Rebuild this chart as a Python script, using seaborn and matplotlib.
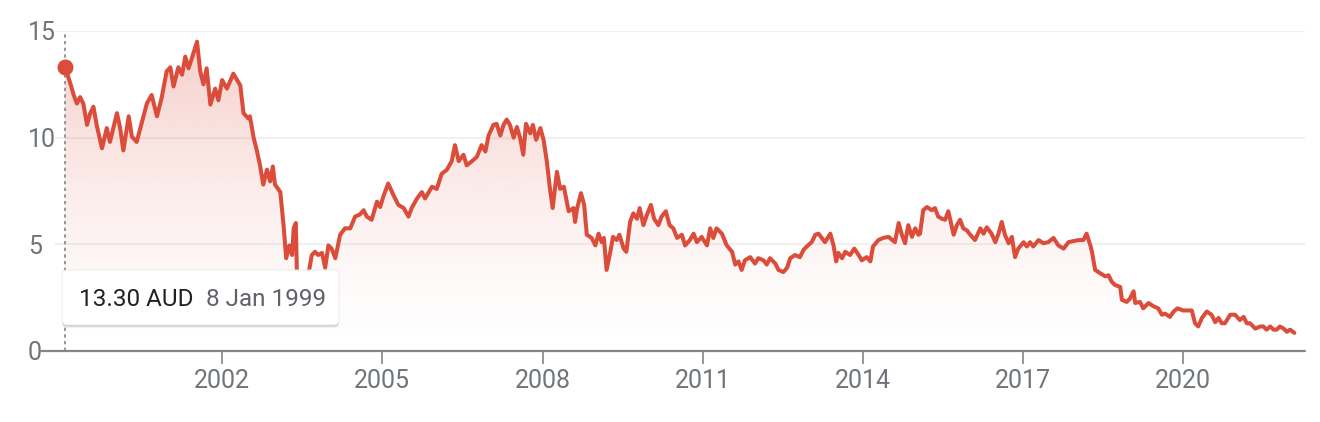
import numpy as np
import matplotlib
matplotlib.use("Agg")
import matplotlib.pyplot as plt
from matplotlib.colors import to_rgb
from matplotlib.lines import Line2D
from matplotlib.patches import FancyBboxPatch
from matplotlib.transforms import IdentityTransform
import seaborn as sns

# weekly-ish closes (decimal year, AUD)
years = [
    1999.06, 1999.15, 1999.22, 1999.28, 1999.34, 1999.40, 1999.47, 1999.53, 1999.59, 1999.65,
    1999.75, 1999.84, 1999.90, 2000.03, 2000.09, 2000.15, 2000.25, 2000.31, 2000.40, 2000.50,
    2000.59, 2000.68, 2000.78, 2000.87, 2000.96, 2001.03, 2001.09, 2001.18, 2001.25, 2001.31,
    2001.37, 2001.43, 2001.53, 2001.59, 2001.65, 2001.71, 2001.78, 2001.87, 2001.93, 2002.00,
    2002.09, 2002.21, 2002.34, 2002.40, 2002.49, 2002.52, 2002.59, 2002.65, 2002.71, 2002.77,
    2002.84, 2002.90, 2002.95, 2002.99, 2003.09, 2003.15, 2003.20, 2003.26, 2003.31, 2003.34,
    2003.38, 2003.40, 2003.46, 2003.55, 2003.63, 2003.68, 2003.74, 2003.80, 2003.87, 2003.93,
    2003.99, 2004.05, 2004.12, 2004.21, 2004.30, 2004.40, 2004.49, 2004.58, 2004.65, 2004.71,
    2004.80, 2004.90, 2004.96, 2005.02, 2005.11, 2005.21, 2005.30, 2005.40, 2005.49, 2005.55,
    2005.65, 2005.74, 2005.80, 2005.93, 2006.02, 2006.11, 2006.21, 2006.30, 2006.36, 2006.43,
    2006.49, 2006.52, 2006.58, 2006.68, 2006.77, 2006.86, 2006.93, 2006.99, 2007.08, 2007.14,
    2007.21, 2007.27, 2007.33, 2007.39, 2007.46, 2007.52, 2007.58, 2007.64, 2007.69, 2007.77,
    2007.82, 2007.88, 2007.96, 2008.02, 2008.08, 2008.14, 2008.19, 2008.27, 2008.33, 2008.40,
    2008.49, 2008.58, 2008.61, 2008.65, 2008.72, 2008.78, 2008.83, 2008.92, 2008.99, 2009.05,
    2009.11, 2009.15, 2009.20, 2009.27, 2009.32, 2009.39, 2009.44, 2009.52, 2009.57, 2009.64,
    2009.70, 2009.77, 2009.82, 2009.89, 2009.95, 2010.03, 2010.09, 2010.17, 2010.23, 2010.31,
    2010.38, 2010.45, 2010.52, 2010.61, 2010.67, 2010.76, 2010.83, 2010.89, 2010.98, 2011.08,
    2011.14, 2011.20, 2011.26, 2011.36, 2011.45, 2011.55, 2011.61, 2011.67, 2011.73, 2011.79,
    2011.89, 2011.98, 2012.04, 2012.14, 2012.20, 2012.26, 2012.36, 2012.42, 2012.51, 2012.58,
    2012.64, 2012.73, 2012.82, 2012.89, 2012.95, 2013.04, 2013.11, 2013.17, 2013.23, 2013.29,
    2013.39, 2013.45, 2013.50, 2013.54, 2013.61, 2013.67, 2013.76, 2013.84, 2013.92, 2013.98,
    2014.07, 2014.14, 2014.19, 2014.29, 2014.38, 2014.48, 2014.60, 2014.67, 2014.73, 2014.79,
    2014.85, 2014.92, 2014.98, 2015.04, 2015.07, 2015.13, 2015.20, 2015.29, 2015.35, 2015.41,
    2015.48, 2015.54, 2015.60, 2015.70, 2015.76, 2015.82, 2015.88, 2015.95, 2016.01, 2016.10,
    2016.20, 2016.26, 2016.32, 2016.41, 2016.48, 2016.54, 2016.60, 2016.66, 2016.73, 2016.79,
    2016.85, 2016.91, 2017.01, 2017.07, 2017.13, 2017.19, 2017.29, 2017.38, 2017.47, 2017.57,
    2017.66, 2017.76, 2017.85, 2017.94, 2018.04, 2018.13, 2018.19, 2018.26, 2018.29, 2018.35,
    2018.44, 2018.54, 2018.60, 2018.66, 2018.72, 2018.82, 2018.85, 2018.94, 2019.00, 2019.07,
    2019.10, 2019.19, 2019.25, 2019.35, 2019.44, 2019.53, 2019.60, 2019.66, 2019.75, 2019.82,
    2019.89, 2020.00, 2020.10, 2020.16, 2020.22, 2020.28, 2020.35, 2020.44, 2020.53, 2020.60,
    2020.66, 2020.72, 2020.78, 2020.88, 2020.97, 2021.06, 2021.13, 2021.19, 2021.25, 2021.35,
    2021.44, 2021.50, 2021.56, 2021.63, 2021.69, 2021.75, 2021.81, 2021.88, 2021.94, 2022.00,
    2022.08,
]
prices = [
    13.30, 12.60, 12.00, 11.60, 11.90, 11.60, 10.60, 11.15, 11.45, 10.60,
    9.50, 10.45, 9.80, 11.15, 10.45, 9.40, 11.00, 10.05, 9.80, 10.75,
    11.60, 12.00, 11.00, 11.90, 13.10, 13.30, 12.40, 13.30, 12.95, 13.80,
    13.25, 13.70, 14.50, 13.10, 12.50, 13.25, 11.55, 12.30, 11.75, 12.70,
    12.30, 13.00, 12.45, 11.15, 10.90, 11.00, 10.00, 9.40, 8.70, 7.80,
    8.50, 7.95, 8.65, 7.80, 7.45, 5.90, 4.35, 4.95, 4.50, 5.75,
    6.00, 3.70, 3.20, 3.50, 3.80, 4.50, 4.65, 4.50, 4.60, 3.90,
    4.95, 4.80, 4.35, 5.45, 5.75, 5.75, 6.30, 6.40, 6.60, 6.30,
    6.15, 7.00, 6.75, 7.25, 7.85, 7.30, 6.85, 6.70, 6.30, 6.70,
    7.15, 7.45, 7.15, 7.70, 7.60, 8.30, 8.50, 8.90, 9.65, 8.90,
    9.10, 9.20, 8.70, 8.90, 9.10, 9.65, 9.35, 10.10, 10.60, 10.65,
    10.10, 10.60, 10.85, 10.60, 10.00, 10.50, 10.00, 9.20, 10.65, 10.20,
    10.60, 9.90, 10.45, 9.90, 8.90, 7.60, 6.70, 8.40, 7.60, 7.70,
    6.55, 6.70, 6.05, 6.70, 7.40, 6.85, 5.45, 5.30, 4.95, 5.50,
    5.10, 5.30, 3.80, 4.65, 5.35, 5.20, 5.45, 4.80, 4.65, 6.05,
    6.45, 6.20, 6.70, 5.90, 6.35, 6.85, 6.20, 5.90, 6.30, 6.55,
    5.90, 5.75, 5.30, 5.45, 4.95, 5.20, 5.50, 5.10, 5.35, 4.95,
    5.75, 5.30, 5.75, 5.50, 4.95, 4.65, 4.05, 4.20, 3.80, 4.25,
    4.40, 4.10, 4.35, 4.25, 4.05, 4.35, 4.10, 3.80, 3.70, 3.90,
    4.35, 4.50, 4.40, 4.75, 4.90, 5.10, 5.45, 5.50, 5.30, 5.10,
    5.50, 4.95, 4.20, 4.60, 4.35, 4.65, 4.50, 4.80, 4.50, 4.25,
    4.40, 4.20, 4.90, 5.20, 5.30, 5.35, 5.10, 6.00, 5.45, 5.05,
    5.90, 5.35, 5.75, 5.45, 5.50, 6.60, 6.75, 6.60, 6.70, 6.30,
    6.20, 6.15, 6.55, 5.45, 5.90, 6.15, 5.75, 5.65, 5.45, 5.20,
    5.75, 5.50, 5.80, 5.50, 5.10, 5.50, 6.05, 5.45, 5.05, 5.35,
    4.40, 4.80, 5.10, 4.90, 5.10, 4.90, 5.20, 5.05, 5.10, 5.30,
    4.95, 4.80, 5.10, 5.15, 5.20, 5.20, 5.50, 4.95, 4.65, 3.80,
    3.65, 3.50, 3.55, 3.25, 3.10, 3.00, 2.40, 2.30, 2.45, 2.80,
    2.25, 2.30, 2.00, 2.25, 2.10, 2.00, 1.70, 1.75, 1.60, 1.85,
    2.00, 1.90, 1.90, 1.90, 1.30, 1.15, 1.55, 1.85, 1.70, 1.35,
    1.55, 1.30, 1.30, 1.70, 1.70, 1.45, 1.60, 1.30, 1.30, 1.05,
    1.15, 1.15, 1.00, 1.15, 1.00, 1.00, 1.15, 1.05, 0.90, 1.00,
    0.85,
]

x_ticks = [2002, 2005, 2008, 2011, 2014, 2017, 2020]
y_ticks = [0, 5, 10, 15]
tooltip_price = "13.30 AUD"
tooltip_date = "8 Jan 1999"

LINE = "#db4c3a"
GREY = "#70757a"
AXIS = "#80868b"

W, H = 1320, 422


def main():
    sns.set_style("white")
    plt.rcParams["font.family"] = ["Roboto", "DejaVu Sans"]

    fig = plt.figure(figsize=(W / 100, H / 100), dpi=100)
    ax = fig.add_axes([55 / W, 1 - 351 / H, 1250 / W, 320 / H])
    xlim = (1998.87, 2022.28)

    # gradient fill under the line
    grid_y = np.linspace(0, 15, 300)
    rgba = np.zeros((300, 1, 4))
    rgba[..., :3] = to_rgb(LINE)
    rgba[:, 0, 3] = 0.28 * (grid_y / 15) ** 1.4
    im = ax.imshow(rgba, extent=[xlim[0], xlim[1], 0, 15], origin="lower",
                   aspect="auto", zorder=1)
    poly = ax.fill_between(years, prices, 0, facecolor="none", edgecolor="none")
    im.set_clip_path(poly.get_paths()[0], transform=ax.transData)

    sns.lineplot(x=years, y=prices, color=LINE, lw=2.9, ax=ax, zorder=4)

    # hover marker
    ax.axvline(years[0], color=AXIS, ls=(0, (2, 2)), lw=1.2, zorder=2)
    ax.plot(years[0], prices[0], "o", ms=10.5, color=LINE, zorder=5, clip_on=False)

    ax.set_xlim(*xlim)
    ax.set_ylim(0, 15)
    ax.set_xticks(x_ticks)
    ax.set_xticklabels([str(y) for y in x_ticks])
    ax.set_yticks(y_ticks)
    ax.set_yticklabels([str(y) for y in y_ticks])
    ax.yaxis.grid(True, color="#f1f1f1", lw=1.6)
    ax.xaxis.grid(False)
    ax.set_axisbelow(True)
    sns.despine(ax=ax, left=True, bottom=True)
    ax.set_xlabel("")
    ax.set_ylabel("")

    ax.tick_params(axis="x", bottom=True, length=9, width=1.2, color=AXIS,
                   pad=4, labelsize=18, labelcolor=GREY)
    ax.tick_params(axis="y", left=False, length=0, pad=19.4, labelsize=18,
                   labelcolor=GREY)
    for lab in ax.get_yticklabels():
        lab.set_horizontalalignment("left")

    ax.add_line(Line2D([-0.012, 1], [0, 0], transform=ax.transAxes,
                       color=AXIS, lw=1.6, clip_on=False, zorder=6))

    # tooltip box
    pix = IdentityTransform()
    for off, a in [(3, 0.05), (2, 0.08), (1, 0.10)]:
        fig.patches.append(FancyBboxPatch(
            (62, H - 325 - off), 277, 55, boxstyle="round,pad=0,rounding_size=5",
            transform=pix, facecolor="black", edgecolor="none", alpha=a,
            figure=fig, zorder=8))
    fig.patches.append(FancyBboxPatch(
        (62, H - 325), 277, 55, boxstyle="round,pad=0,rounding_size=5",
        transform=pix, facecolor="white", edgecolor="#e8e8e8", lw=0.6,
        figure=fig, zorder=9))
    fig.text(79, H - 306, tooltip_price, transform=pix, fontsize=17.5,
             color="#202124", va="baseline", ha="left", zorder=10)
    fig.text(206, H - 306, tooltip_date, transform=pix, fontsize=17.5,
             color="#5f6368", va="baseline", ha="left", zorder=10)

    fig.savefig("out.png", dpi=100, facecolor="white")


if __name__ == "__main__":
    main()
